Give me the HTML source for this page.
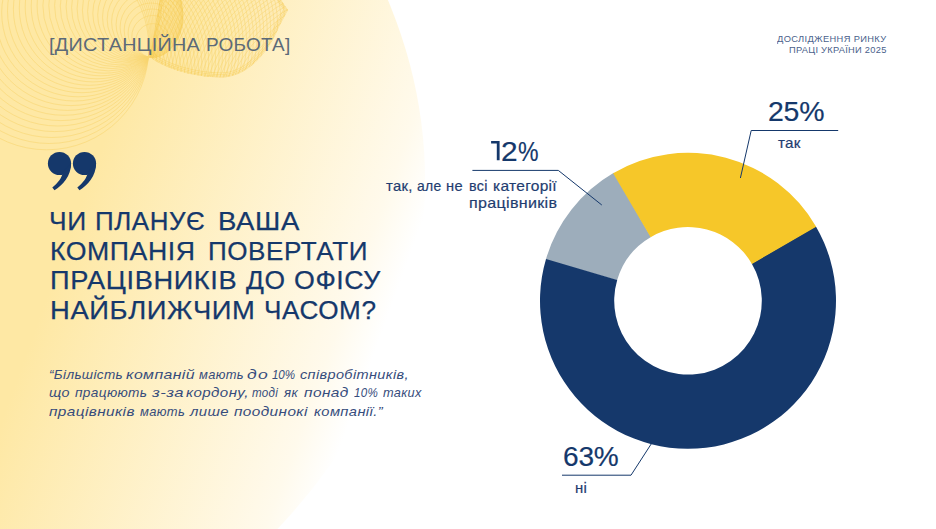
<!DOCTYPE html>
<html><head><meta charset="utf-8"><title>slide</title>
<style>
html,body{margin:0;padding:0;}
body{width:936px;height:529px;overflow:hidden;background:#fff;position:relative;font-family:"Liberation Sans",sans-serif;}
#bg{position:absolute;left:0;top:0;width:936px;height:529px;clip-path:ellipse(800px 601px at -374.9px 181.1px);
background:linear-gradient(110deg,#fee8a4 0%,#fee8a4 13.7%,#fffaec 40.5%,#ffffff 44.6%);}
.t{position:absolute;white-space:nowrap;transform-origin:0 0;}
svg{position:absolute;left:0;top:0;}
</style></head><body>
<div id="bg"></div>
<svg width="936" height="529" viewBox="0 0 936 529">
<g fill="none" stroke="#f4c540" stroke-width="0.55" opacity="0.55"><circle cx="152.9" cy="40.6" r="17.0"/><circle cx="152.8" cy="36.5" r="21.0"/><circle cx="152.2" cy="33.1" r="24.1"/><circle cx="151.3" cy="30.1" r="27.1"/><circle cx="150.0" cy="27.2" r="29.9"/><circle cx="148.6" cy="24.5" r="32.5"/><circle cx="146.8" cy="21.9" r="35.2"/><circle cx="144.9" cy="19.5" r="37.7"/><circle cx="142.7" cy="17.2" r="40.2"/><circle cx="140.3" cy="15.2" r="42.6"/><circle cx="137.8" cy="13.3" r="45.0"/><circle cx="135.0" cy="11.6" r="47.4"/><circle cx="132.1" cy="10.1" r="49.7"/><circle cx="129.1" cy="8.7" r="52.0"/><circle cx="125.9" cy="7.6" r="54.3"/><circle cx="122.6" cy="6.7" r="56.5"/><circle cx="119.1" cy="6.1" r="58.8"/><circle cx="115.6" cy="5.6" r="61.0"/><circle cx="112.0" cy="5.4" r="63.2"/><circle cx="108.3" cy="5.5" r="65.4"/><circle cx="104.6" cy="5.7" r="67.5"/><circle cx="100.8" cy="6.2" r="69.6"/><circle cx="97.0" cy="7.0" r="71.8"/><circle cx="93.2" cy="8.0" r="73.9"/><circle cx="89.4" cy="9.3" r="76.0"/><circle cx="85.6" cy="10.8" r="78.1"/><circle cx="81.8" cy="12.6" r="80.1"/><circle cx="78.1" cy="14.6" r="82.2"/><circle cx="74.5" cy="16.8" r="84.2"/><circle cx="70.9" cy="19.3" r="86.3"/><circle cx="67.4" cy="22.1" r="88.3"/><circle cx="64.0" cy="25.0" r="90.3"/><circle cx="60.8" cy="28.3" r="92.3"/><circle cx="57.7" cy="31.7" r="94.3"/><circle cx="54.7" cy="35.3" r="96.3"/><circle cx="51.9" cy="39.2" r="98.3"/><circle cx="49.2" cy="43.3" r="100.2"/><circle cx="46.7" cy="47.6" r="102.2"/></g>
<clipPath id="pc"><path d="M150,57 C160,66 190,77.5 222,77.5 C245,77.5 267,56 279,27 C283,19 286,14 288,10 L279,-3 L160,-3 Z"/></clipPath>
<path d="M150,57 C160,66 190,77.5 222,77.5 C245,77.5 267,56 279,27 C283,19 286,14 288,10 L279,-3 L160,-3 Z" fill="#f8d458" opacity="0.11"/>
<g fill="none" stroke="#f4c540" stroke-width="0.55" opacity="0.55" clip-path="url(#pc)"><circle cx="263.5" cy="46.5" r="150"/><circle cx="266.4" cy="49.1" r="150"/><circle cx="269.3" cy="51.7" r="150"/><circle cx="272.2" cy="54.3" r="150"/><circle cx="275.1" cy="56.9" r="150"/><circle cx="278.0" cy="59.5" r="150"/><circle cx="280.9" cy="62.2" r="150"/><circle cx="283.8" cy="64.8" r="150"/><circle cx="286.7" cy="67.4" r="150"/><circle cx="289.6" cy="70.0" r="150"/><circle cx="292.5" cy="72.6" r="150"/><circle cx="295.4" cy="75.2" r="150"/><circle cx="298.3" cy="77.8" r="150"/><circle cx="301.2" cy="80.4" r="150"/><circle cx="304.1" cy="83.0" r="150"/><circle cx="307.0" cy="85.6" r="150"/><circle cx="309.9" cy="88.3" r="150"/><circle cx="312.8" cy="90.9" r="150"/><circle cx="315.7" cy="93.5" r="150"/><circle cx="318.6" cy="96.1" r="150"/><circle cx="321.5" cy="98.7" r="150"/><circle cx="324.4" cy="101.3" r="150"/><circle cx="327.3" cy="103.9" r="150"/><circle cx="330.2" cy="106.5" r="150"/><circle cx="333.1" cy="109.1" r="150"/><circle cx="336.0" cy="111.7" r="150"/><circle cx="338.9" cy="114.4" r="150"/><circle cx="341.8" cy="117.0" r="150"/><circle cx="344.7" cy="119.6" r="150"/><circle cx="347.6" cy="122.2" r="150"/><circle cx="350.5" cy="124.8" r="150"/><circle cx="353.4" cy="127.4" r="150"/><circle cx="356.3" cy="130.0" r="150"/><circle cx="359.2" cy="132.6" r="150"/><circle cx="362.1" cy="135.2" r="150"/><circle cx="365.0" cy="137.8" r="150"/><circle cx="367.9" cy="140.4" r="150"/><circle cx="370.8" cy="143.1" r="150"/><circle cx="373.7" cy="145.7" r="150"/><circle cx="376.6" cy="148.3" r="150"/><circle cx="379.5" cy="150.9" r="150"/><circle cx="382.4" cy="153.5" r="150"/><circle cx="385.3" cy="156.1" r="150"/><circle cx="188.3" cy="14.1" r="110"/><circle cx="184.8" cy="16.0" r="110"/><circle cx="181.4" cy="17.8" r="110"/><circle cx="177.9" cy="19.6" r="110"/><circle cx="174.5" cy="21.5" r="110"/><circle cx="171.1" cy="23.3" r="110"/><circle cx="167.6" cy="25.1" r="110"/><circle cx="164.2" cy="27.0" r="110"/><circle cx="160.7" cy="28.8" r="110"/><circle cx="157.3" cy="30.6" r="110"/><circle cx="153.8" cy="32.5" r="110"/><circle cx="150.4" cy="34.3" r="110"/><circle cx="147.0" cy="36.1" r="110"/><circle cx="143.5" cy="37.9" r="110"/><circle cx="140.1" cy="39.8" r="110"/><circle cx="136.6" cy="41.6" r="110"/><circle cx="133.2" cy="43.4" r="110"/><circle cx="129.7" cy="45.3" r="110"/><circle cx="126.3" cy="47.1" r="110"/><circle cx="122.9" cy="48.9" r="110"/><circle cx="119.4" cy="50.8" r="110"/><circle cx="116.0" cy="52.6" r="110"/><circle cx="112.5" cy="54.4" r="110"/><circle cx="109.1" cy="56.3" r="110"/><circle cx="105.6" cy="58.1" r="110"/><circle cx="102.2" cy="59.9" r="110"/><circle cx="98.7" cy="61.7" r="110"/><circle cx="95.3" cy="63.6" r="110"/><circle cx="91.9" cy="65.4" r="110"/><circle cx="88.4" cy="67.2" r="110"/><circle cx="85.0" cy="69.1" r="110"/><circle cx="81.5" cy="70.9" r="110"/><circle cx="78.1" cy="72.7" r="110"/><circle cx="74.6" cy="74.6" r="110"/><circle cx="71.2" cy="76.4" r="110"/><circle cx="67.8" cy="78.2" r="110"/><circle cx="64.3" cy="80.1" r="110"/><circle cx="60.9" cy="81.9" r="110"/><circle cx="57.4" cy="83.7" r="110"/><circle cx="54.0" cy="85.6" r="110"/><circle cx="50.5" cy="87.4" r="110"/><circle cx="47.1" cy="89.2" r="110"/><circle cx="43.7" cy="91.0" r="110"/></g>
<g fill="none" stroke="#f4c540" stroke-width="0.55" opacity="0.6" clip-path="url(#pc)"><path d="M150,57 C160,66 190,77.5 222,77.5 C245,77.5 267,56 279,27 C283,19 286,14 288,10 L279,-3 L160,-3 Z" transform="translate(216 0) scale(1.0) translate(-216 0)"/><path d="M150,57 C160,66 190,77.5 222,77.5 C245,77.5 267,56 279,27 C283,19 286,14 288,10 L279,-3 L160,-3 Z" transform="translate(216 0) scale(0.982) translate(-216 0)"/><path d="M150,57 C160,66 190,77.5 222,77.5 C245,77.5 267,56 279,27 C283,19 286,14 288,10 L279,-3 L160,-3 Z" transform="translate(216 0) scale(0.962) translate(-216 0)"/><path d="M150,57 C160,66 190,77.5 222,77.5 C245,77.5 267,56 279,27 C283,19 286,14 288,10 L279,-3 L160,-3 Z" transform="translate(216 0) scale(0.94) translate(-216 0)"/></g>
<path d="M545.80,259.76 A148.0,148.0 0 0 1 613.78,172.76 L650.99,236.95 A73.8,73.8 0 0 0 617.09,280.33 Z" fill="#9dadbb"/><path d="M815.78,226.13 A148.0,148.0 0 1 1 546.02,259.01 L617.20,279.96 A73.8,73.8 0 1 0 751.72,263.57 Z" fill="#15386b"/><path d="M613.11,173.15 A148.0,148.0 0 0 1 816.17,226.80 L751.91,263.90 A73.8,73.8 0 0 0 650.65,237.15 Z" fill="#f6c729"/>
<g fill="none" stroke="#15386b" stroke-width="1.0" stroke-linejoin="miter">
<polyline points="838.2,130.5 751.2,130.5 740.4,178"/>
<polyline points="472.4,170.4 558.3,170.4 601.8,205"/>
<polyline points="562,475.2 631,475.2 651.5,443.5"/>
</g>
<g fill="#15386b"><circle cx="59.5" cy="163.5" r="11.6"/><path d="M71.1,163.5 C71.1,176 62.5,185.5 54.5,190.3 L52.3,187.6 C58.0,183 62.0,177.5 63.0,172 Z"/><circle cx="84.5" cy="163.5" r="11.6"/><path d="M96.1,163.5 C96.1,176 87.5,185.5 79.5,190.3 L77.3,187.6 C83.0,183 87.0,177.5 88.0,172 Z"/><path d="M491.1,140.9 H499.6 V160.2 H496.8 V143.5 H491.1 Z"/></g>
</svg>
<div class="t" style="left:48.84px;top:33.39px;font-size:18.8px;line-height:24px;letter-spacing:0.250px;color:#5c6a78;transform:scaleX(1.0561);">[ДИСТАНЦІЙНА</div><div class="t" style="left:205.89px;top:33.39px;font-size:18.8px;line-height:24px;letter-spacing:0.250px;color:#5c6a78;transform:scaleX(1.0085);">РОБОТА]</div><div class="t" style="left:48.87px;top:205.13px;font-size:25.6px;line-height:33px;letter-spacing:0.550px;color:#15386b;transform:scaleX(1.0313);-webkit-text-stroke:0.25px #15386b;">ЧИ</div><div class="t" style="left:94.99px;top:205.13px;font-size:25.6px;line-height:33px;letter-spacing:0.550px;color:#15386b;transform:scaleX(1.0136);-webkit-text-stroke:0.25px #15386b;">ПЛАНУЄ</div><div class="t" style="left:217.62px;top:205.13px;font-size:25.6px;line-height:33px;letter-spacing:0.550px;color:#15386b;transform:scaleX(1.0770);-webkit-text-stroke:0.25px #15386b;">ВАША</div><div class="t" style="left:50.36px;top:234.63px;font-size:25.6px;line-height:33px;letter-spacing:0.550px;color:#15386b;transform:scaleX(1.0410);-webkit-text-stroke:0.25px #15386b;">КОМПАНІЯ</div><div class="t" style="left:208.38px;top:234.63px;font-size:25.6px;line-height:33px;letter-spacing:0.550px;color:#15386b;transform:scaleX(1.0175);-webkit-text-stroke:0.25px #15386b;">ПОВЕРТАТИ</div><div class="t" style="left:49.74px;top:264.23px;font-size:25.6px;line-height:33px;letter-spacing:0.550px;color:#15386b;transform:scaleX(1.0634);-webkit-text-stroke:0.25px #15386b;">ПРАЦІВНИКІВ</div><div class="t" style="left:245.93px;top:264.23px;font-size:25.6px;line-height:33px;letter-spacing:0.550px;color:#15386b;transform:scaleX(1.0298);-webkit-text-stroke:0.25px #15386b;">ДО</div><div class="t" style="left:293.55px;top:264.23px;font-size:25.6px;line-height:33px;letter-spacing:0.550px;color:#15386b;transform:scaleX(1.0450);-webkit-text-stroke:0.25px #15386b;">ОФІСУ</div><div class="t" style="left:49.73px;top:293.73px;font-size:25.6px;line-height:33px;letter-spacing:0.550px;color:#15386b;transform:scaleX(1.0712);-webkit-text-stroke:0.25px #15386b;">НАЙБЛИЖЧИМ</div><div class="t" style="left:263.68px;top:293.73px;font-size:25.6px;line-height:33px;letter-spacing:0.550px;color:#15386b;transform:scaleX(1.0207);-webkit-text-stroke:0.25px #15386b;">ЧАСОМ?</div><div class="t" style="left:48.50px;top:365.72px;font-size:13.5px;line-height:18px;letter-spacing:0.350px;color:#364c7c;transform:scaleX(1.0035);font-style:italic;">“Більшість</div><div class="t" style="left:126.00px;top:365.72px;font-size:13.5px;line-height:18px;letter-spacing:0.350px;color:#364c7c;transform:scaleX(1.1737);font-style:italic;">компаній</div><div class="t" style="left:199.10px;top:365.72px;font-size:13.5px;line-height:18px;letter-spacing:0.350px;color:#364c7c;transform:scaleX(0.9526);font-style:italic;">мають</div><div class="t" style="left:247.40px;top:365.72px;font-size:13.5px;line-height:18px;letter-spacing:1.077px;color:#364c7c;transform:scaleX(1.3000);font-style:italic;">до</div><div class="t" style="left:271.90px;top:365.72px;font-size:13.5px;line-height:18px;letter-spacing:-0.128px;color:#364c7c;transform:scaleX(0.8600);font-style:italic;">10%</div><div class="t" style="left:299.70px;top:365.72px;font-size:13.5px;line-height:18px;letter-spacing:0.350px;color:#364c7c;transform:scaleX(1.0731);font-style:italic;">співробітників,</div><div class="t" style="left:48.80px;top:384.42px;font-size:13.5px;line-height:18px;letter-spacing:0.350px;color:#364c7c;transform:scaleX(1.0646);font-style:italic;">що</div><div class="t" style="left:75.10px;top:384.42px;font-size:13.5px;line-height:18px;letter-spacing:0.350px;color:#364c7c;transform:scaleX(1.0106);font-style:italic;">працюють</div><div class="t" style="left:152.10px;top:384.42px;font-size:13.5px;line-height:18px;letter-spacing:0.350px;color:#364c7c;transform:scaleX(1.2375);font-style:italic;">з-за</div><div class="t" style="left:186.30px;top:384.42px;font-size:13.5px;line-height:18px;letter-spacing:0.350px;color:#364c7c;transform:scaleX(1.1185);font-style:italic;">кордону,</div><div class="t" style="left:252.10px;top:384.42px;font-size:13.5px;line-height:18px;letter-spacing:0.310px;color:#364c7c;transform:scaleX(0.8600);font-style:italic;">тоді</div><div class="t" style="left:283.50px;top:384.42px;font-size:13.5px;line-height:18px;letter-spacing:0.350px;color:#364c7c;transform:scaleX(0.9826);font-style:italic;">як</div><div class="t" style="left:304.00px;top:384.42px;font-size:13.5px;line-height:18px;letter-spacing:0.350px;color:#364c7c;transform:scaleX(1.1432);font-style:italic;">понад</div><div class="t" style="left:354.00px;top:384.42px;font-size:13.5px;line-height:18px;letter-spacing:0.279px;color:#364c7c;transform:scaleX(0.8600);font-style:italic;">10%</div><div class="t" style="left:382.80px;top:384.42px;font-size:13.5px;line-height:18px;letter-spacing:0.350px;color:#364c7c;transform:scaleX(0.9444);font-style:italic;">таких</div><div class="t" style="left:48.80px;top:403.22px;font-size:13.5px;line-height:18px;letter-spacing:0.350px;color:#364c7c;transform:scaleX(1.1377);font-style:italic;">працівників</div><div class="t" style="left:139.90px;top:403.22px;font-size:13.5px;line-height:18px;letter-spacing:0.350px;color:#364c7c;transform:scaleX(0.9591);font-style:italic;">мають</div><div class="t" style="left:189.90px;top:403.22px;font-size:13.5px;line-height:18px;letter-spacing:0.350px;color:#364c7c;transform:scaleX(1.1040);font-style:italic;">лише</div><div class="t" style="left:234.10px;top:403.22px;font-size:13.5px;line-height:18px;letter-spacing:0.350px;color:#364c7c;transform:scaleX(1.1373);font-style:italic;">поодинокі</div><div class="t" style="left:313.60px;top:403.22px;font-size:13.5px;line-height:18px;letter-spacing:0.350px;color:#364c7c;transform:scaleX(1.0896);font-style:italic;">компанії.”</div><div class="t" style="left:777.20px;top:34.09px;font-size:8.7px;line-height:11px;letter-spacing:0.334px;color:#4a5f8b;transform:scaleX(1.0700);">ДОСЛІДЖЕННЯ РИНКУ</div><div class="t" style="left:789.10px;top:44.99px;font-size:8.7px;line-height:11px;letter-spacing:0.248px;color:#4a5f8b;transform:scaleX(1.0700);">ПРАЦІ УКРАЇНИ 2025</div><div class="t" style="left:767.65px;top:92.94px;font-size:28.3px;line-height:37px;letter-spacing:-0.200px;color:#15386b;transform:scaleX(1.0046);-webkit-text-stroke:0.2px #15386b;">25%</div><div class="t" style="left:500.74px;top:132.59px;font-size:28.3px;line-height:37px;letter-spacing:0.000px;color:#15386b;transform:scaleX(1.0571);-webkit-text-stroke:0.2px #15386b;">2</div><div class="t" style="left:517.70px;top:132.59px;font-size:28.3px;line-height:37px;letter-spacing:0.000px;color:#15386b;transform:scaleX(0.8160);-webkit-text-stroke:0.2px #15386b;">%</div><div class="t" style="left:562.81px;top:438.09px;font-size:28.3px;line-height:37px;letter-spacing:-0.200px;color:#15386b;transform:scaleX(0.9908);-webkit-text-stroke:0.2px #15386b;">63%</div><div class="t" style="left:778.40px;top:132.90px;font-size:15px;line-height:20px;letter-spacing:0.200px;color:#1f3d70;transform:scaleX(1.0134);-webkit-text-stroke:0.2px #1f3d70;">так</div><div class="t" style="left:385.80px;top:176.10px;font-size:15px;line-height:20px;letter-spacing:0.300px;color:#1f3d70;transform:scaleX(0.9884);-webkit-text-stroke:0.2px #1f3d70;">так,</div><div class="t" style="left:416.50px;top:176.10px;font-size:15px;line-height:20px;letter-spacing:0.300px;color:#1f3d70;transform:scaleX(0.9297);-webkit-text-stroke:0.2px #1f3d70;">але</div><div class="t" style="left:446.40px;top:176.10px;font-size:15px;line-height:20px;letter-spacing:0.300px;color:#1f3d70;transform:scaleX(0.9769);-webkit-text-stroke:0.2px #1f3d70;">не</div><div class="t" style="left:468.70px;top:176.10px;font-size:15px;line-height:20px;letter-spacing:0.300px;color:#1f3d70;transform:scaleX(0.9541);-webkit-text-stroke:0.2px #1f3d70;">всі</div><div class="t" style="left:492.80px;top:176.10px;font-size:15px;line-height:20px;letter-spacing:0.300px;color:#1f3d70;transform:scaleX(1.0321);-webkit-text-stroke:0.2px #1f3d70;">категорії</div><div class="t" style="left:469.20px;top:193.40px;font-size:15px;line-height:20px;letter-spacing:0.300px;color:#1f3d70;transform:scaleX(1.0707);-webkit-text-stroke:0.2px #1f3d70;">працівників</div><div class="t" style="left:575.20px;top:478.30px;font-size:15px;line-height:20px;letter-spacing:0.200px;color:#1f3d70;transform:scaleX(0.9918);-webkit-text-stroke:0.2px #1f3d70;">ні</div>
</body></html>
